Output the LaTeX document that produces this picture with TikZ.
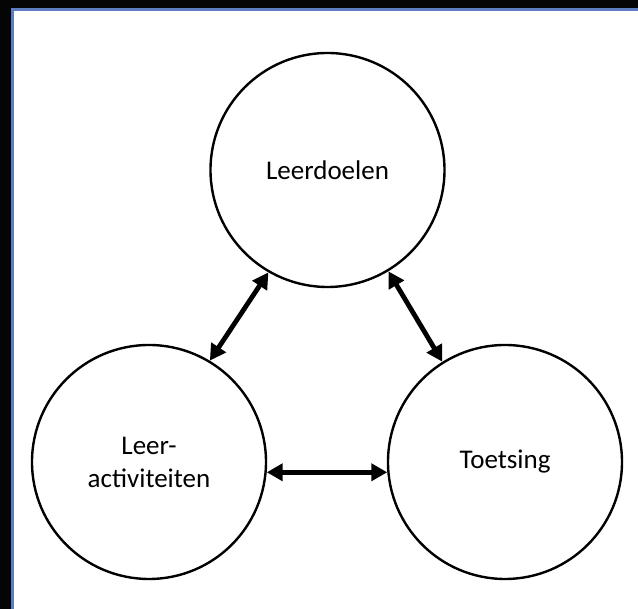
\documentclass[tikz,border=0pt]{standalone}
\usepackage{fontspec}
\setmainfont{Carlito}
\usetikzlibrary{arrows.meta}
\definecolor{framedark}{RGB}{5,5,5}
\definecolor{frameblue}{RGB}{92,126,192}
\tikzset{
  phase/.style={circle, draw=black, line width=2.4pt, minimum size=234pt,
    inner sep=0pt, fill=white, font=\fontsize{27}{33}\selectfont, align=center},
  biarrow/.style={line width=4.8pt,
    {Triangle[length=16pt,width=17pt]}-{Triangle[length=16pt,width=17pt]}}
}
\begin{document}
\begin{tikzpicture}[x=1pt,y=1pt]
  % page frame
  \fill[framedark] (0,0) rectangle (638,609);
  \fill[frameblue] (11,0) rectangle (638,601);
  \fill[white] (14,0) rectangle (638,598);
  \useasboundingbox (0,0) rectangle (638,609);

  % the three phases
  \node[phase] (doel) at (327.5,439) {Leerdoelen};
  \node[phase] (act) at (149,147) {Leer-\\activiteiten};
  \node[phase] (toets) at (505,147) {Toetsing};

  % two-way links between the phases
  \draw[biarrow] (doel.240.8) -- (act.59);
  \draw[biarrow] (doel.301) -- (toets.122);
  \draw[biarrow] (act.-5) -- (toets.185);
\end{tikzpicture}
\end{document}
